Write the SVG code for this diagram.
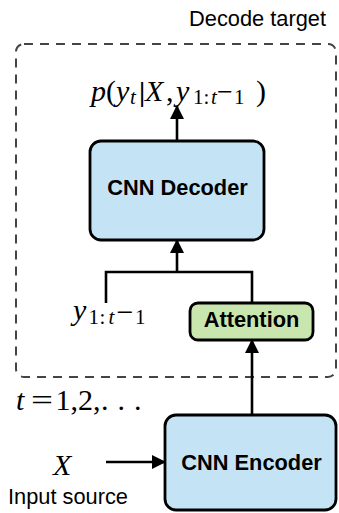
<svg xmlns="http://www.w3.org/2000/svg" width="339" height="513" viewBox="0 0 339 513">
<style>
.box{stroke:#000;stroke-width:2.8}
.blue{fill:#c4e4f6}
.green{fill:#c8e6ad}
.lbl{font-family:"Liberation Sans",Arial,sans-serif;font-weight:bold;font-size:21.8px;text-anchor:middle}
.sans{font-family:"Liberation Sans",Arial,sans-serif;font-size:21.8px}
.math{font-family:"Liberation Serif","Times New Roman",serif;font-size:30px}
.it{font-style:italic}
.sub{font-size:21px}
.line{stroke:#000;stroke-width:2.6;fill:none}
</style>
<defs>
<marker id="ah" markerWidth="14" markerHeight="14" refX="13" refY="7" orient="auto" markerUnits="userSpaceOnUse" viewBox="0 0 14 14">
<path d="M0,0 L14,7 L0,14 z" fill="#000"/>
</marker>
</defs>
<g id="decode-target">
<rect x="16" y="44" width="320" height="333" rx="8" fill="none" stroke="#444" stroke-width="2" stroke-dasharray="9,7"/>
<text class="sans" x="326" y="26" text-anchor="end">Decode target</text>
</g>
<g id="output">
<text class="math"><tspan class="it" x="91" y="101">p</tspan><tspan x="106" y="101">(</tspan><tspan class="it" x="116" y="101">y</tspan><tspan class="it sub" x="130" y="104">t</tspan><tspan x="139" y="101" font-weight="bold" font-size="28">|</tspan><tspan class="it" x="145" y="101">X</tspan><tspan x="166" y="101">,</tspan><tspan class="it" x="176" y="101">y</tspan><tspan class="sub" x="193" y="104">1</tspan><tspan class="sub" x="203.5" y="104">:</tspan><tspan class="sub it" x="211" y="104">t</tspan><tspan x="217" y="101" font-size="28">−</tspan><tspan class="sub" x="234" y="104">1</tspan><tspan x="256" y="101">)</tspan></text>
</g>
<g id="decoder">
<rect class="box blue" x="90" y="141" width="174" height="99" rx="11"/>
<text class="lbl" x="177.5" y="195">CNN Decoder</text>
</g>
<g id="prev">
<text class="math"><tspan class="it" x="73" y="320">y</tspan><tspan class="sub" x="88.5" y="324">1</tspan><tspan class="sub" x="99.5" y="324">:</tspan><tspan class="sub it" x="108.5" y="324">t</tspan><tspan x="116.5" y="321.5">−</tspan><tspan class="sub" x="135" y="324">1</tspan></text>
</g>
<g id="attention">
<rect class="box green" x="190" y="303" width="123" height="37" rx="8"/>
<text class="lbl" x="251.5" y="327">Attention</text>
</g>
<g id="loop">
<text class="math" y="410"><tspan class="it" x="16">t</tspan></text>
<text class="math" transform="translate(31,410) scale(1.3,1)" x="0" y="0">=</text>
<text class="math" y="410"><tspan x="55.5">1</tspan><tspan x="70.5">,</tspan><tspan x="78">2</tspan><tspan x="93">,</tspan><tspan x="101">.</tspan><tspan x="117.5">.</tspan><tspan x="134">.</tspan></text>
</g>
<g id="encoder">
<rect class="box blue" x="165" y="415" width="171" height="95" rx="11"/>
<text class="lbl" x="251.5" y="470">CNN Encoder</text>
</g>
<g id="input">
<text class="math it" x="53" y="475" font-size="33">X</text>
<text class="sans" x="8" y="504">Input source</text>
</g>
<g id="connectors">
<line class="line" x1="177" y1="141" x2="177" y2="106" marker-end="url(#ah)"/>
<polyline class="line" points="106,303 106,272 252,272 252,303"/>
<line class="line" x1="177" y1="272" x2="177" y2="240" marker-end="url(#ah)"/>
<line class="line" x1="252" y1="415" x2="252" y2="340" marker-end="url(#ah)"/>
<line class="line" x1="106" y1="462" x2="165" y2="462" marker-end="url(#ah)"/>
</g>
</svg>
